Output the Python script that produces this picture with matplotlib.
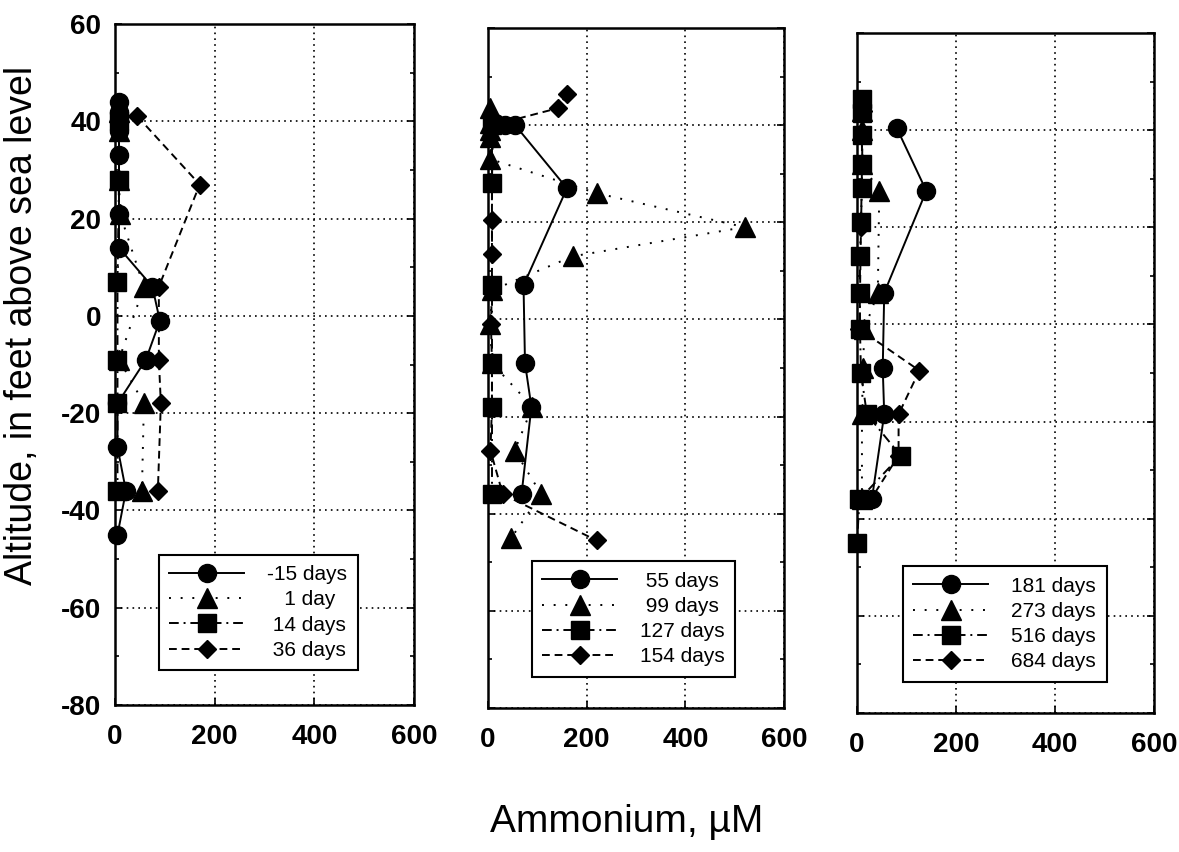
import matplotlib
matplotlib.use("Agg")
import matplotlib.pyplot as plt
from matplotlib.ticker import MultipleLocator

plt.rcParams["font.family"] = ["Liberation Sans", "DejaVu Sans"]
plt.rcParams["axes.unicode_minus"] = False

# ── Panel 1: -15, 1, 14, 36 days ─────────────────────────────────────────────
p1_circ_x = [8, 8, 8, 8, 8, 8, 8, 75, 90, 62, 5, 5, 22, 5]
p1_circ_y = [44, 42, 40, 38, 33, 21, 14, 6, -1, -9, -18, -27, -36, -45]
p1_tri_x = [8, 8, 8, 10, 58, 8, 58, 54]
p1_tri_y = [42, 38, 28, 21, 6, -9, -18, -36]
p1_sq_x = [8, 8, 5, 5, 5, 5]
p1_sq_y = [40, 28, 7, -9, -18, -36]
p1_dia_x = [45, 170, 88, 88, 92, 86]
p1_dia_y = [41, 27, 6, -9, -18, -36]

# ── Panel 2: 55, 99, 127, 154 days ───────────────────────────────────────────
p2_circ_x = [15, 35, 55, 160, 72, 75, 88, 68]
p2_circ_y = [40.5, 40, 40, 27, 7, -9, -18, -36]
p2_tri_x = [5, 5, 5, 5, 5, 220, 520, 172, 8, 5, 8, 90, 54, 108, 47]
p2_tri_y = [43.5, 40.5, 39, 37.5, 33, 26, 19, 13, 6, -1, -9, -18, -27, -36, -45]
p2_sq_x = [8, 8, 8, 8, 8, 8]
p2_sq_y = [40, 28, 7, -9, -18, -36]
p2_dia_x = [160, 142, 10, 8, 8, 8, 8, 6, 8, 8, 5, 30, 220]
p2_dia_y = [46.5, 43.5, 40, 28, 20.5, 13.5, 6.5, -1, -9, -18, -27, -36, -45.5]

# ── Panel 3: 181, 273, 516, 684 days ─────────────────────────────────────────
p3_circ_x = [80, 140, 55, 52, 55, 30]
p3_circ_y = [40.5, 27.5, 6.5, -9, -18.5, -36]
p3_tri_x = [10, 10, 10, 45, 42, 15, 12, 10, 10]
p3_tri_y = [44, 40, 33, 27.5, 6.5, -1, -9, -18.5, -36]
p3_sq_x = [10, 10, 10, 10, 10, 8, 6, 6, 6, 8, 20, 88, 5, 0]
p3_sq_y = [46.5, 43.5, 39, 33, 28, 21, 14, 6.5, -1, -10, -18.5, -27, -36, -45]
p3_dia_x = [12, 8, 5, 126, 84, 84, 28]
p3_dia_y = [44, 20, -1, -9.5, -18.5, -27, -36]

labels1 = ["-15 days", "   1 day", " 14 days", " 36 days"]
labels2 = [" 55 days", " 99 days", "127 days", "154 days"]
labels3 = ["181 days", "273 days", "516 days", "684 days"]

x_ticks = [0, 200, 400, 600]
y_ticks = [60, 40, 20, 0, -20, -40, -60, -80]

panels = [
    (p1_circ_x, p1_circ_y, p1_tri_x, p1_tri_y, p1_sq_x, p1_sq_y, p1_dia_x, p1_dia_y, labels1),
    (p2_circ_x, p2_circ_y, p2_tri_x, p2_tri_y, p2_sq_x, p2_sq_y, p2_dia_x, p2_dia_y, labels2),
    (p3_circ_x, p3_circ_y, p3_tri_x, p3_tri_y, p3_sq_x, p3_sq_y, p3_dia_x, p3_dia_y, labels3),
]

# axes boxes in pixels: left, top, right, bottom (scan is slightly skewed)
W, H = 1179, 852
boxes = [(115, 24, 414, 705), (488, 28, 784, 708), (857, 33, 1154, 713)]
leg_anchor = [(0.147, 0.051), (0.148, 0.046), (0.155, 0.046)]

styles = [
    dict(marker="o", ms=13, ls="-"),
    dict(marker="^", ms=14, ls=(0, (1, 5))),
    dict(marker="s", ms=13, ls=(0, (5, 2.5, 1, 2.5))),
    dict(marker="D", ms=9.5, ls=(0, (4, 2.5))),
]

fig = plt.figure(figsize=(W / 100, H / 100), dpi=100)

for i, (panel, box) in enumerate(zip(panels, boxes)):
    l, t, r, b = box
    ax = fig.add_axes([l / W, 1 - b / H, (r - l) / W, (b - t) / H])
    xs = panel[0:8:2]
    ys = panel[1:8:2]
    labels = panel[8]
    for x, y, st, lab in zip(xs, ys, styles, labels):
        ax.plot(x, y, color="black", lw=1.4, mfc="black", mec="black",
                clip_on=False, zorder=3, label=lab, **st)
    ax.set_xlim(0, 600)
    ax.set_ylim(-80, 60)
    ax.set_xticks(x_ticks)
    ax.set_yticks(y_ticks)
    ax.yaxis.set_minor_locator(MultipleLocator(10))
    ax.grid(True, color="black", ls=(0, (1, 2.5)), lw=1.2)
    for sp in ax.spines.values():
        sp.set_linewidth(1.8)
    ax.tick_params(axis="both", which="both", direction="in", right=True,
                   length=5, width=1.2)
    ax.tick_params(axis="y", which="minor", length=3)
    ax.tick_params(axis="x", pad=14, labelsize=20)
    ax.tick_params(axis="y", pad=10, labelsize=20)
    for lbl in ax.get_xticklabels() + ax.get_yticklabels():
        lbl.set_fontweight("bold")
    if i > 0:
        ax.tick_params(axis="y", labelleft=False)
    leg = ax.legend(loc="lower left", bbox_to_anchor=leg_anchor[i], borderaxespad=0,
                    fontsize=15, handlelength=3.6, handletextpad=1.1,
                    labelspacing=0.3, borderpad=0.5, fancybox=False,
                    framealpha=1, edgecolor="black")
    leg.get_frame().set_linewidth(1.5)
    leg.set_zorder(5)

fig.text(22 / W, 1 - 325 / H, "Altitude, in feet above sea level", rotation=90,
         ha="center", va="center", fontsize=27)
fig.text(627 / W, 1 - 822 / H, "Ammonium, \u00b5M", ha="center", va="center",
         fontsize=28)

fig.savefig("out.png", dpi=100)
